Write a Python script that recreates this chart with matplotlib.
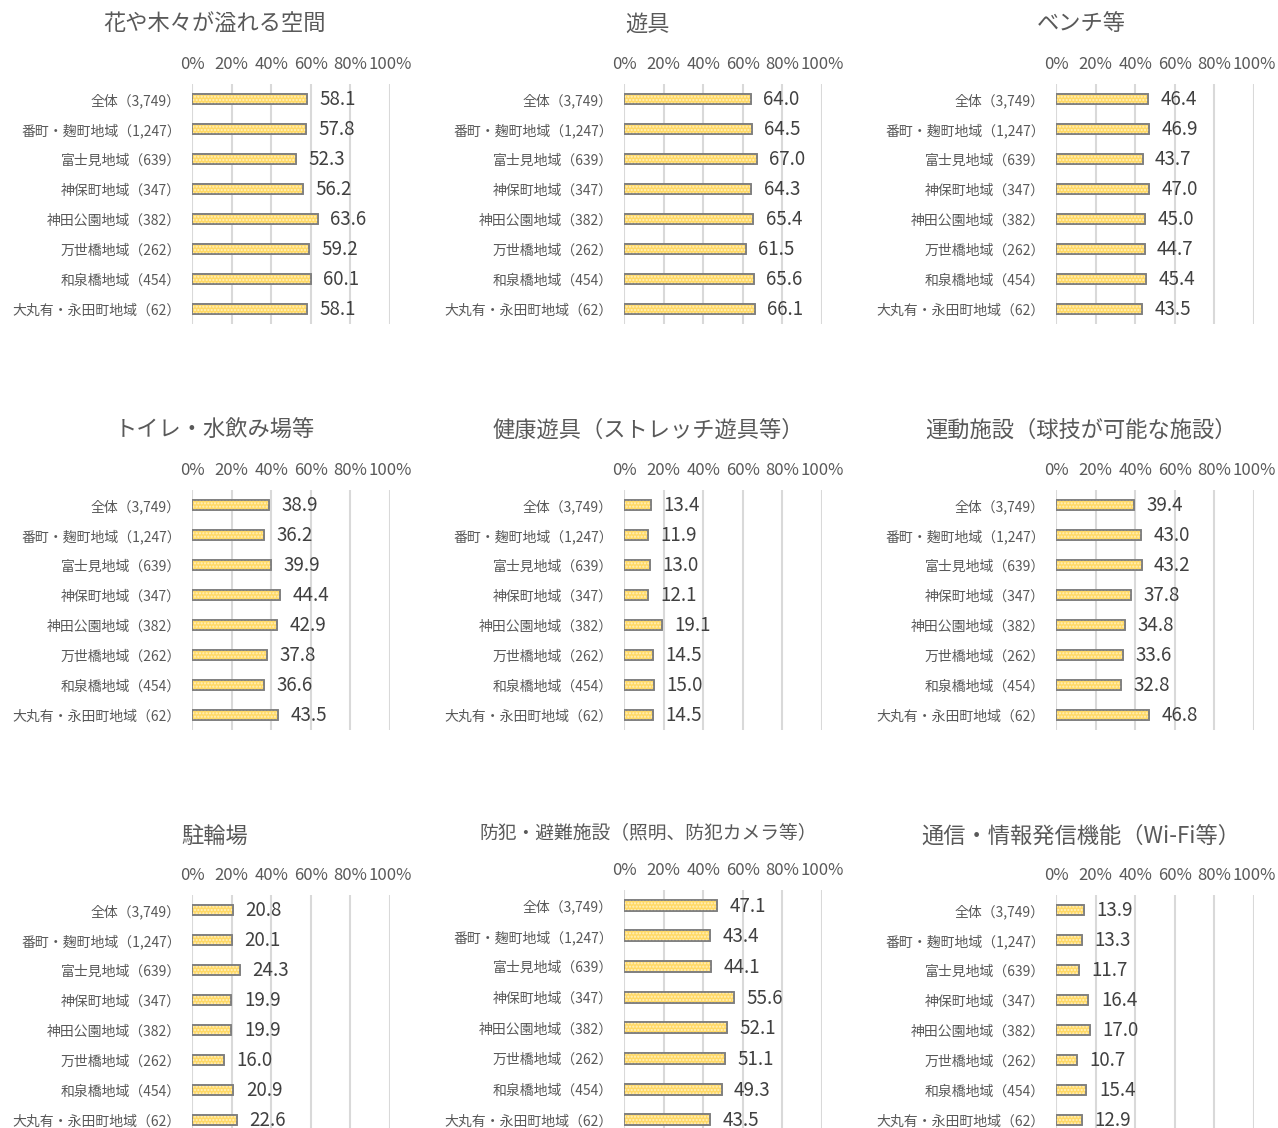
import matplotlib
matplotlib.use('Agg')
import matplotlib.pyplot as plt
import numpy as np

plt.rcParams['font.family'] = ['Noto Sans CJK JP', 'DejaVu Sans']

# 地域カテゴリ
categories = ['全体（3,749）', '番町・麹町地域（1,247）', '富士見地域（639）', '神保町地域（347）',
              '神田公園地域（382）', '万世橋地域（262）', '和泉橋地域（454）', '大丸有・永田町地域（62）']

titles = ['花や木々が溢れる空間', '遊具', 'ベンチ等',
          'トイレ・水飲み場等', '健康遊具（ストレッチ遊具等）', '運動施設（球技が可能な施設）',
          '駐輪場', '防犯・避難施設（照明、防犯カメラ等）', '通信・情報発信機能（Wi-Fi等）']

hana = [58.1, 57.8, 52.3, 56.2, 63.6, 59.2, 60.1, 58.1]
yugu = [64.0, 64.5, 67.0, 64.3, 65.4, 61.5, 65.6, 66.1]
bench = [46.4, 46.9, 43.7, 47.0, 45.0, 44.7, 45.4, 43.5]
toilet = [38.9, 36.2, 39.9, 44.4, 42.9, 37.8, 36.6, 43.5]
kenko = [13.4, 11.9, 13.0, 12.1, 19.1, 14.5, 15.0, 14.5]
undo = [39.4, 43.0, 43.2, 37.8, 34.8, 33.6, 32.8, 46.8]
chorin = [20.8, 20.1, 24.3, 19.9, 19.9, 16.0, 20.9, 22.6]
bohan = [47.1, 43.4, 44.1, 55.6, 52.1, 51.1, 49.3, 43.5]
tsushin = [13.9, 13.3, 11.7, 16.4, 17.0, 10.7, 15.4, 12.9]

series = [hana, yugu, bench, toilet, kenko, undo, chorin, bohan, tsushin]

W, H = 1278, 1128
fig = plt.figure(figsize=(W / 100, H / 100), dpi=100)

col_x = [192, 624, 1056]
col_center = [215, 648, 1081]
ax_w = 198
# (axes top, axes bottom, title y) in pixels per row
row_pos = [(84, 324, 24), (490, 730, 430), (895, 1135, 836)]

gris = '#595959'
y = np.arange(len(categories))

for i, (titulo, vals) in enumerate(zip(titles, series)):
    r, c = divmod(i, 3)
    top, bot, ty = row_pos[r]
    tsize = 16
    if i == 7:
        top, ty, tsize = 890, 833, 13.5
    ax = fig.add_axes([col_x[c] / W, 1 - bot / H, ax_w / W, (bot - top) / H])

    ax.barh(y, vals, height=0.36, color='#FFD966', edgecolor='#7f7f7f', linewidth=1.2, zorder=3)
    ax.barh(y, vals, height=0.36, color='none', edgecolor='#FFF0C0', hatch='.....',
            linewidth=0, zorder=4)
    ax.barh(y, vals, height=0.36, color='none', edgecolor='#7f7f7f', linewidth=1.2, zorder=5)

    for yy, v in zip(y, vals):
        ax.annotate(f'{v:.1f}', xy=(v, yy), xytext=(9, -0.7), textcoords='offset points',
                    ha='left', va='center', fontsize=13.5, color='#404040', zorder=6)

    ax.set_xlim(0, 100)
    ax.set_ylim(len(categories) - 0.5, -0.5)
    ax.set_xticks(range(0, 101, 20))
    ax.set_xticklabels([f'{t}%' for t in range(0, 101, 20)])
    ax.xaxis.tick_top()
    ax.tick_params(axis='x', length=0, pad=8, labelsize=12, labelcolor=gris)
    ax.set_yticks(y)
    ax.set_yticklabels(categories)
    ax.tick_params(axis='y', length=0, pad=8, labelsize=10, labelcolor=gris)
    ax.grid(axis='x', color='#d9d9d9', linewidth=1.5, zorder=0)
    ax.set_axisbelow(True)
    for s in ax.spines.values():
        s.set_visible(False)

    fig.text(col_center[c] / W, 1 - ty / H, titulo, ha='center', va='center',
             fontsize=tsize, color=gris)

plt.savefig('out.png', dpi=100)
